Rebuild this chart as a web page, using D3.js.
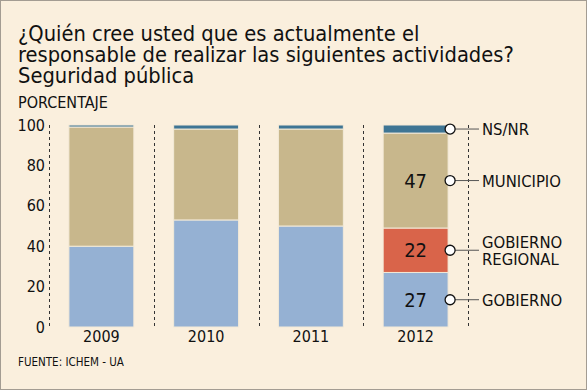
<!DOCTYPE html>
<html>
<head>
<meta charset="utf-8">
<script src="https://cdn.jsdelivr.net/npm/d3@7"></script>
<style>
  body { margin: 0; background: #fff; }
  svg text { font-family: "DejaVu Sans Condensed", "DejaVu Sans", sans-serif; fill: #111; }
</style>
</head>
<body>
<script>
// chart size
var width = 587;
var height = 390;

// data
var years = ["2009", "2010", "2011", "2012"];
var series = ["gobierno", "regional", "municipio", "nsnr"];
var gobierno  = [40, 53, 50, 27];
var regional  = [0, 0, 0, 22];
var municipio = [59, 45, 48, 47];
var nsnr      = [1, 2, 2, 4];
var yTicks = [0, 20, 40, 60, 80, 100];
var titleLines = [
  "¿Quién cree usted que es actualmente el",
  "responsable de realizar las siguientes actividades?",
  "Seguridad pública"
];
var legendLabels = {
  nsnr: ["NS/NR"],
  municipio: ["MUNICIPIO"],
  regional: ["GOBIERNO", "REGIONAL"],
  gobierno: ["GOBIERNO"]
};

var colors = {
  gobierno: "#95b1d3",
  regional: "#d9644a",
  municipio: "#c8b78c",
  nsnr: "#3e7594"
};

var rows = years.map((y, i) => ({
  year: y,
  gobierno: gobierno[i],
  regional: regional[i],
  municipio: municipio[i],
  nsnr: nsnr[i]
}));

var svg = d3.select("body")
  .append("svg")
  .attr("width", width)
  .attr("height", height);

// background + frame
svg.append("rect")
  .attr("x", 0.5).attr("y", 0.5)
  .attr("width", width - 1).attr("height", height - 1)
  .attr("fill", "#faefdd")
  .attr("stroke", "#a39c92");

// title (one text block, tight leading like the original)
svg.append("text")
  .attr("class", "title")
  .style("font-size", "21.7px")
  .selectAll("tspan")
  .data(titleLines)
  .join("tspan")
    .attr("x", 18)
    .attr("y", (d, i) => 41 + i * 21)
    .text(d => d);

svg.append("text")
  .attr("x", 18).attr("y", 108)
  .style("font-size", "16px")
  .text("PORCENTAJE");

// scales
var x = d3.scaleBand()
  .domain(years)
  .range([49, 468])
  .paddingInner(0.38)
  .paddingOuter(0.19);

var y = d3.scaleLinear()
  .domain([0, 100])
  .range([327, 125]);

// dashed separators
var seps = years.map(d => x(d) - x.step() * x.paddingInner() / 2);
seps.push(x(years[years.length - 1]) + x.bandwidth() + x.step() * x.paddingInner() / 2);

svg.append("g")
  .selectAll("line")
  .data(seps)
  .join("line")
    .attr("x1", d => Math.round(d) + 0.5)
    .attr("x2", d => Math.round(d) + 0.5)
    .attr("y1", y(100))
    .attr("y2", y(0))
    .attr("stroke", "#333")
    .attr("stroke-dasharray", "3,3");

// y axis labels
var yAxis = d3.axisLeft(y).tickValues(yTicks).tickSize(0).tickPadding(0);
var gy = svg.append("g")
  .attr("transform", "translate(45,0)")
  .call(yAxis);
gy.select(".domain").remove();
gy.selectAll("text")
  .style("font-size", "16px")
  .style("font-family", null)
  .attr("fill", "#111");

// x axis labels
var xAxis = d3.axisBottom(x).tickSize(0).tickPadding(0);
var gx = svg.append("g")
  .attr("transform", "translate(0,331)")
  .call(xAxis);
gx.select(".domain").remove();
gx.selectAll("text")
  .style("font-size", "16px")
  .style("font-family", null)
  .attr("fill", "#111");

// stacked bars
var stack = d3.stack().keys(series);
var stacked = stack(rows);

svg.append("g")
  .selectAll("g")
  .data(stacked)
  .join("g")
    .attr("fill", d => colors[d.key])
  .selectAll("rect")
  .data(d => d.filter(s => s[1] > s[0]))
  .join("rect")
    .attr("x", d => x(d.data.year))
    .attr("y", d => y(d[1]))
    .attr("width", x.bandwidth())
    .attr("height", d => y(d[0]) - y(d[1]))
    .attr("stroke", "#f3ead8")
    .attr("stroke-width", 1);

// value labels on 2012
var last = years[years.length - 1];
var li = years.length - 1;
var valueKeys = ["gobierno", "regional", "municipio"];
svg.append("g")
  .selectAll("text")
  .data(stacked.filter(s => valueKeys.includes(s.key)))
  .join("text")
    .attr("x", x(last) + x.bandwidth() / 2)
    .attr("y", d => y((d[li][0] + d[li][1]) / 2))
    .attr("dy", "0.36em")
    .attr("text-anchor", "middle")
    .style("font-size", "20px")
    .text(d => d[li][1] - d[li][0]);

// legend markers tied to the 2012 bar
var mx = x(last) + x.bandwidth() + 2;
var lx = 482;
var leg = svg.append("g")
  .selectAll("g")
  .data(stacked)
  .join("g")
    .attr("transform", d => "translate(0," + y((d[li][0] + d[li][1]) / 2) + ")");

leg.append("line")
  .attr("x1", mx).attr("x2", lx - 3)
  .attr("y1", 0).attr("y2", 0)
  .attr("stroke", "#555");

leg.append("circle")
  .attr("cx", mx)
  .attr("r", 5)
  .attr("fill", "#fff")
  .attr("stroke", "#111")
  .attr("stroke-width", 1.3);

leg.append("text")
  .attr("x", lx)
  .style("font-size", "16.5px")
  .selectAll("tspan")
  .data(d => legendLabels[d.key].map((t, i, a) => ({ t: t, i: i, n: a.length })))
  .join("tspan")
    .attr("x", lx)
    .attr("y", d => (d.i - (d.n - 1) / 2) * 17.3)
    .attr("dy", "0.36em")
    .text(d => d.t);

// source
svg.append("text")
  .attr("x", 18).attr("y", 366)
  .style("font-size", "11.5px")
  .text("FUENTE: ICHEM - UA");
</script>
</body>
</html>
